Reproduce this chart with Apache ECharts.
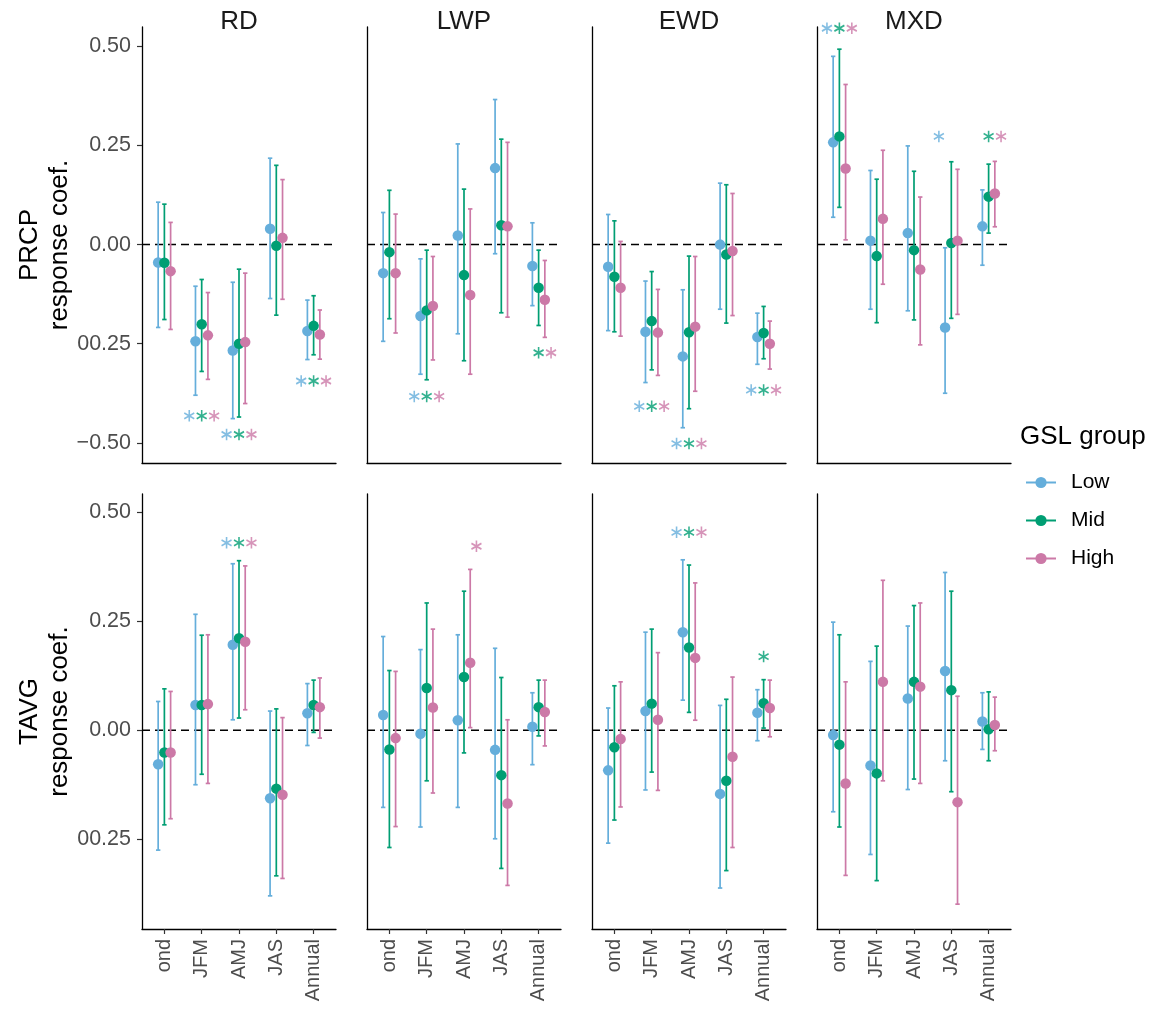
<!DOCTYPE html>
<html>
<head>
<meta charset="UTF-8">
<title>GSL group response coefficients</title>
<script src="https://cdn.jsdelivr.net/npm/echarts@6/dist/echarts.min.js"></script>
<style>
  html, body { margin: 0; padding: 0; background: #fff; }
  #chart { width: 1153px; height: 1009px; }
</style>
</head>
<body>
<div id="chart"></div>
<script>
// ---- data ----
var categories = ['ond', 'JFM', 'AMJ', 'JAS', 'Annual'];
var groups = ['Low', 'Mid', 'High'];
var indices = ['RD', 'LWP', 'EWD', 'MXD'];
var variables = ['PRCP', 'TAVG'];
var colors = ['#65AEDB', '#009E73', '#CC79A7'];

var prcpTicks = [-0.5, -0.25, 0, 0.25, 0.5];
var tavgTicks = [-0.25, 0, 0.25, 0.5];
var tickText = { '-0.5': '\u22120.50', '-0.25': '00.25', '0': '0.00', '0.25': '0.25', '0.5': '0.50' };

// rows = Low, Mid, High; columns = categories
var prcpRD_est = [[-0.045, -0.244, -0.267, 0.040, -0.218], [-0.046, -0.201, -0.250, -0.003, -0.205], [-0.067, -0.229, -0.246, 0.017, -0.227]];
var prcpRD_lo  = [[-0.209, -0.380, -0.439, -0.136, -0.290], [-0.189, -0.320, -0.435, -0.178, -0.278], [-0.214, -0.340, -0.401, -0.138, -0.289]];
var prcpRD_hi  = [[0.107, -0.105, -0.095, 0.218, -0.140], [0.102, -0.088, -0.062, 0.200, -0.129], [0.056, -0.121, -0.072, 0.164, -0.165]];

var prcpLWP_est = [[-0.072, -0.180, 0.023, 0.193, -0.054], [-0.019, -0.166, -0.077, 0.049, -0.109], [-0.072, -0.155, -0.127, 0.046, -0.139]];
var prcpLWP_lo  = [[-0.244, -0.327, -0.225, -0.023, -0.154], [-0.187, -0.341, -0.293, -0.172, -0.204], [-0.223, -0.291, -0.327, -0.183, -0.234]];
var prcpLWP_hi  = [[0.081, -0.036, 0.254, 0.366, 0.055], [0.137, -0.014, 0.140, 0.266, -0.014], [0.077, -0.030, 0.090, 0.258, -0.040]];

var prcpEWD_est = [[-0.056, -0.220, -0.282, 0.000, -0.233], [-0.081, -0.193, -0.221, -0.025, -0.223], [-0.109, -0.222, -0.207, -0.016, -0.250]];
var prcpEWD_lo  = [[-0.217, -0.348, -0.462, -0.163, -0.302], [-0.220, -0.316, -0.414, -0.198, -0.288], [-0.231, -0.330, -0.370, -0.179, -0.314]];
var prcpEWD_hi  = [[0.076, -0.092, -0.114, 0.155, -0.173], [0.060, -0.068, -0.029, 0.151, -0.156], [0.008, -0.113, -0.030, 0.129, -0.193]];

var prcpMXD_est = [[0.258, 0.010, 0.029, -0.209, 0.046], [0.273, -0.029, -0.014, 0.004, 0.121], [0.192, 0.065, -0.063, 0.010, 0.129]];
var prcpMXD_lo  = [[0.069, -0.163, -0.167, -0.375, -0.052], [0.094, -0.197, -0.190, -0.186, 0.029], [0.012, -0.100, -0.253, -0.176, 0.045]];
var prcpMXD_hi  = [[0.475, 0.187, 0.249, -0.008, 0.138], [0.493, 0.165, 0.185, 0.209, 0.203], [0.404, 0.238, 0.120, 0.190, 0.210]];

var tavgRD_est = [[-0.078, 0.058, 0.196, -0.156, 0.039], [-0.051, 0.058, 0.211, -0.134, 0.058], [-0.051, 0.060, 0.203, -0.148, 0.053]];
var tavgRD_lo  = [[-0.275, -0.125, 0.024, -0.380, -0.035], [-0.217, -0.101, 0.028, -0.334, -0.005], [-0.203, -0.122, 0.047, -0.340, -0.018]];
var tavgRD_hi  = [[0.066, 0.266, 0.382, 0.044, 0.107], [0.095, 0.218, 0.389, 0.049, 0.115], [0.089, 0.219, 0.377, 0.029, 0.120]];

var tavgLWP_est = [[0.035, -0.008, 0.023, -0.045, 0.008], [-0.044, 0.097, 0.122, -0.103, 0.053], [-0.018, 0.052, 0.155, -0.168, 0.042]];
var tavgLWP_lo  = [[-0.177, -0.222, -0.177, -0.249, -0.079], [-0.269, -0.116, -0.052, -0.317, -0.013], [-0.221, -0.144, 0.006, -0.356, -0.036]];
var tavgLWP_hi  = [[0.215, 0.185, 0.219, 0.188, 0.086], [0.137, 0.292, 0.319, 0.121, 0.115], [0.135, 0.232, 0.369, 0.024, 0.115]];

var tavgEWD_est = [[-0.092, 0.044, 0.225, -0.146, 0.040], [-0.039, 0.061, 0.190, -0.116, 0.062], [-0.020, 0.024, 0.166, -0.061, 0.051]];
var tavgEWD_lo  = [[-0.259, -0.137, 0.069, -0.362, -0.024], [-0.206, -0.096, 0.041, -0.322, 0.005], [-0.176, -0.138, 0.023, -0.269, -0.015]];
var tavgEWD_hi  = [[0.051, 0.225, 0.391, 0.057, 0.093], [0.102, 0.232, 0.379, 0.071, 0.116], [0.111, 0.178, 0.338, 0.122, 0.115]];

var tavgMXD_est = [[-0.011, -0.081, 0.073, 0.136, 0.020], [-0.033, -0.099, 0.111, 0.092, 0.002], [-0.122, 0.111, 0.100, -0.165, 0.012]];
var tavgMXD_lo  = [[-0.187, -0.285, -0.136, -0.070, -0.044], [-0.222, -0.345, -0.112, -0.141, -0.070], [-0.333, -0.116, -0.122, -0.399, -0.047]];
var tavgMXD_hi  = [[0.248, 0.158, 0.239, 0.362, 0.086], [0.219, 0.193, 0.286, 0.319, 0.088], [0.111, 0.344, 0.292, 0.078, 0.076]];

// significance stars: [index, category, y, groups flagged]
var prcpStars = [
  ['RD', 'JFM', -0.432, ['Low', 'Mid', 'High']],
  ['RD', 'AMJ', -0.479, ['Low', 'Mid', 'High']],
  ['RD', 'Annual', -0.344, ['Low', 'Mid', 'High']],
  ['LWP', 'JFM', -0.383, ['Low', 'Mid', 'High']],
  ['LWP', 'Annual', -0.273, ['Mid', 'High']],
  ['EWD', 'JFM', -0.408, ['Low', 'Mid', 'High']],
  ['EWD', 'AMJ', -0.502, ['Low', 'Mid', 'High']],
  ['EWD', 'Annual', -0.367, ['Low', 'Mid', 'High']],
  ['MXD', 'ond', 0.546, ['Low', 'Mid', 'High']],
  ['MXD', 'JAS', 0.273, ['Low']],
  ['MXD', 'Annual', 0.273, ['Mid', 'High']]
];
var tavgStars = [
  ['RD', 'AMJ', 0.430, ['Low', 'Mid', 'High']],
  ['LWP', 'AMJ', 0.422, ['High']],
  ['EWD', 'AMJ', 0.454, ['Low', 'Mid', 'High']],
  ['EWD', 'Annual', 0.169, ['Mid']]
];

var panels = [
  [[prcpRD_est, prcpRD_lo, prcpRD_hi], [prcpLWP_est, prcpLWP_lo, prcpLWP_hi], [prcpEWD_est, prcpEWD_lo, prcpEWD_hi], [prcpMXD_est, prcpMXD_lo, prcpMXD_hi]],
  [[tavgRD_est, tavgRD_lo, tavgRD_hi], [tavgLWP_est, tavgLWP_lo, tavgLWP_hi], [tavgEWD_est, tavgEWD_lo, tavgEWD_hi], [tavgMXD_est, tavgMXD_lo, tavgMXD_hi]]
];
var starLists = [prcpStars, tavgStars];
var rowTicks = [prcpTicks, tavgTicks];

// ---- layout ----
var font = 'Liberation Sans, Arial, Helvetica, sans-serif';
var colLeft = [142, 367, 592, 817];
var panelW = 194;
var rowTop = [27, 494];
var rowH = [436, 435];
var rowRange = [[-0.551, 0.549], [-0.456, 0.542]];
var dodge = 0.5 / 3;     // points / bars
var starDodge = 1 / 3;   // asterisks

var starPath = 'path://M5,0L5,10M0.67,2.5L9.33,7.5M0.67,7.5L9.33,2.5';

var grids = [], xAxes = [], yAxes = [], series = [], graphics = [];

for (var r = 0; r < 2; r++) {
  for (var c = 0; c < 4; c++) {
    var gi = r * 4 + c;
    grids.push({ left: colLeft[c], top: rowTop[r], width: panelW, height: rowH[r], outerBoundsMode: 'none' });
    xAxes.push({
      type: 'value', gridIndex: gi, min: -0.6, max: 4.6,
      splitLine: { show: false },
      axisLine: { show: true, onZero: false, lineStyle: { color: '#000', width: 1.3 } },
      axisTick: { show: r === 1, customValues: [0, 1, 2, 3, 4], length: 5, lineStyle: { color: '#333', width: 1.2 } },
      axisLabel: {
        show: r === 1, customValues: [0, 1, 2, 3, 4], rotate: 90, margin: 10,
        color: '#4d4d4d', fontSize: 20, fontFamily: font,
        formatter: function (v) { return categories[Math.round(v)]; }
      }
    });
    yAxes.push({
      type: 'value', gridIndex: gi, min: rowRange[r][0], max: rowRange[r][1],
      splitLine: { show: false },
      axisLine: { show: true, onZero: false, lineStyle: { color: '#000', width: 1.3 } },
      axisTick: { show: c === 0, customValues: rowTicks[r], length: 5, lineStyle: { color: '#333', width: 1.2 } },
      axisLabel: {
        show: c === 0, customValues: rowTicks[r], margin: 11,
        color: '#4d4d4d', fontSize: 21.5, fontFamily: font,
        formatter: function (v) { return tickText[String(Math.round(v * 100) / 100)]; }
      }
    });

    // dashed zero line
    series.push({
      type: 'line', xAxisIndex: gi, yAxisIndex: gi, silent: true, symbol: 'none', z: 1,
      data: [[-0.6, 0], [4.6, 0]],
      lineStyle: { color: '#000', width: 1.5, type: [8, 5] }
    });

    var p = panels[r][c];
    for (var g = 0; g < 3; g++) {
      var bars = [], pts = [];
      for (var k = 0; k < categories.length; k++) {
        var xv = k + (g - 1) * dodge;
        bars.push([xv, p[1][g][k], p[2][g][k]]);
        pts.push([xv, p[0][g][k]]);
      }
      (function (col) {
        series.push({
          type: 'custom', xAxisIndex: gi, yAxisIndex: gi, silent: true, z: 2,
          encode: { x: 0, y: [1, 2] },
          data: bars,
          renderItem: function (params, api) {
            var a = api.coord([api.value(0), api.value(1)]);
            var b = api.coord([api.value(0), api.value(2)]);
            var cw = 2.2;
            var st = { stroke: col, lineWidth: 1.7, fill: null };
            return {
              type: 'group', children: [
                { type: 'line', shape: { x1: a[0], y1: a[1], x2: b[0], y2: b[1] }, style: st },
                { type: 'line', shape: { x1: a[0] - cw, y1: a[1], x2: a[0] + cw, y2: a[1] }, style: st },
                { type: 'line', shape: { x1: b[0] - cw, y1: b[1], x2: b[0] + cw, y2: b[1] }, style: st }
              ]
            };
          }
        });
      })(colors[g]);
      series.push({
        type: 'scatter', name: groups[g] + ' point', xAxisIndex: gi, yAxisIndex: gi, silent: true, z: 3,
        symbol: 'circle', symbolSize: 10.5, data: pts,
        itemStyle: { color: colors[g], opacity: 1 }
      });
    }

    // asterisks
    var stars = [[], [], []];
    starLists[r].forEach(function (s) {
      if (s[0] !== indices[c]) return;
      var k = categories.indexOf(s[1]);
      s[3].forEach(function (gn) {
        var gg = groups.indexOf(gn);
        stars[gg].push([k + (gg - 1) * starDodge, s[2]]);
      });
    });
    for (var g2 = 0; g2 < 3; g2++) {
      if (!stars[g2].length) continue;
      series.push({
        type: 'scatter', xAxisIndex: gi, yAxisIndex: gi, silent: true, clip: false, z: 4,
        symbol: starPath, symbolSize: [10, 11.5], data: stars[g2],
        itemStyle: { color: 'rgba(0,0,0,0)', borderColor: colors[g2], borderWidth: 1.7 }
      });
    }

    if (r === 0) {
      graphics.push({
        type: 'text', x: colLeft[c] + panelW / 2, y: 22,
        style: { text: indices[c], fontSize: 26, fontFamily: font, fill: '#1a1a1a', align: 'center', verticalAlign: 'middle' }
      });
    }
  }
  graphics.push({
    type: 'text', x: 45, y: rowTop[r] + rowH[r] / 2, rotation: Math.PI / 2,
    style: {
      text: variables[r] + '\nresponse coef.', fontSize: 26, lineHeight: 30, fontFamily: font,
      fill: '#000', align: 'center', verticalAlign: 'middle'
    }
  });
}

// legend entries (line + dot)
for (var g3 = 0; g3 < 3; g3++) {
  series.push({
    type: 'line', name: groups[g3], xAxisIndex: 7, yAxisIndex: 7, data: [],
    symbol: 'circle', symbolSize: 8,
    itemStyle: { color: colors[g3] }, lineStyle: { color: colors[g3], width: 2 }
  });
}
graphics.push({
  type: 'text', x: 1020, y: 437,
  style: { text: 'GSL group', fontSize: 26, fontFamily: font, fill: '#000', align: 'left', verticalAlign: 'middle' }
});

var chart = echarts.init(document.getElementById('chart'), null, { renderer: 'canvas' });
chart.setOption({
  animation: false,
  backgroundColor: '#fff',
  grid: grids,
  xAxis: xAxes,
  yAxis: yAxes,
  legend: {
    data: groups, orient: 'vertical', left: 1020, top: 467,
    itemWidth: 30, itemHeight: 14, itemGap: 17, selectedMode: false,
    textStyle: { fontSize: 21, fontFamily: font, color: '#000', padding: [0, 0, 0, 10] }
  },
  graphic: graphics,
  series: series
});
</script>
</body>
</html>
